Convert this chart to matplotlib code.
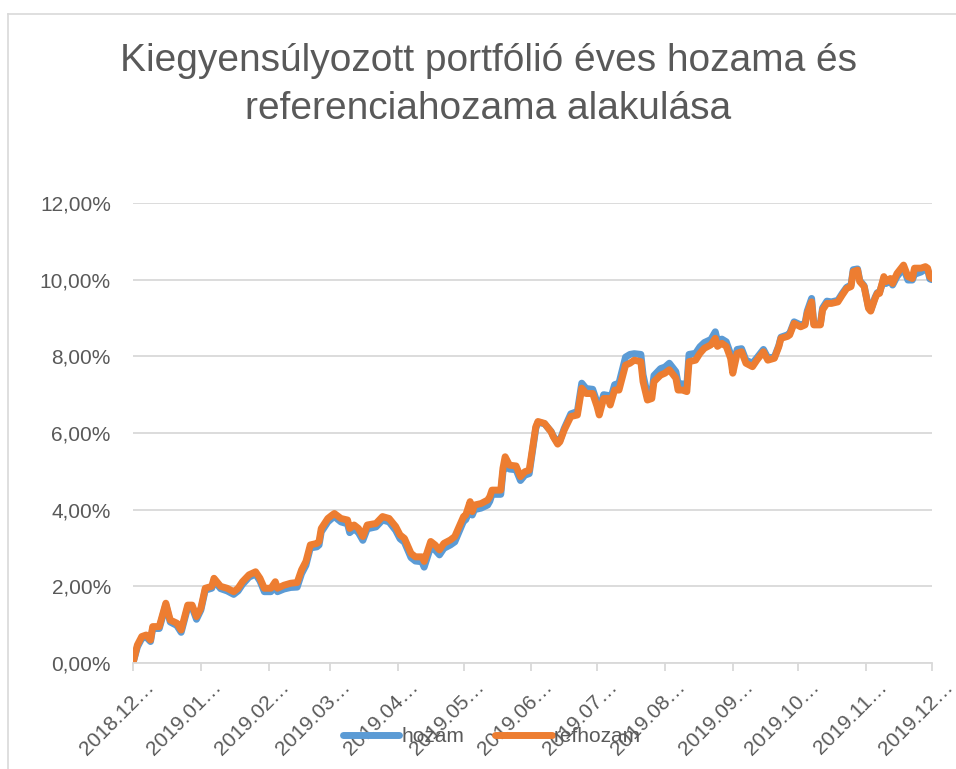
import datetime as dt

import matplotlib
matplotlib.use("Agg")
import matplotlib.pyplot as plt
from matplotlib.lines import Line2D
from matplotlib.transforms import ScaledTranslation


# days since 2018.12.01
START = dt.date(2018, 12, 1)
days = [
    0, 2, 4, 6, 8, 9, 12, 15, 17, 20, 22, 25, 27, 29, 31, 33, 36, 37, 40, 43,
    46, 48, 50, 53, 56, 58, 60, 63, 65, 66, 69, 72, 75, 77, 79, 81, 84, 85, 86, 89,
    91, 92, 95, 98, 99, 101, 103, 105, 107, 111, 114, 117, 120, 122, 124, 127, 129, 132, 133, 136,
    138, 140, 142, 145, 147, 149, 151, 152, 154, 155, 156, 159, 162, 163, 164, 168, 169, 170, 172, 175,
    177, 179, 181, 184, 185, 188, 191, 192, 194, 195, 197, 200, 203, 205, 207, 210, 212, 213, 215, 217,
    218, 220, 222, 225, 227, 229, 232, 233, 235, 237, 238, 241, 243, 245, 248, 249, 251, 253, 254, 257,
    259, 261, 264, 266, 267, 269, 271, 273, 274, 276, 278, 280, 283, 285, 288, 290, 293, 295, 296, 299,
    300, 302, 305, 307, 308, 310, 311, 314, 315, 317, 319, 322, 324, 326, 328, 329, 331, 332, 334, 336,
    337, 339, 340, 341, 343, 344, 346, 347, 349, 352, 354, 356, 357, 360, 362, 363, 364, 365,
]

# refhozam (%)
refhozam = [
    0.00, 0.47, 0.69, 0.73, 0.60, 0.95, 0.95, 1.56, 1.12, 1.04, 0.86, 1.51, 1.51, 1.21, 1.43, 1.95, 2.00, 2.21, 2.00, 1.95,
    1.86, 1.95, 2.12, 2.30, 2.38, 2.21, 1.95, 1.95, 2.12, 1.95, 2.03, 2.08, 2.10, 2.43, 2.65, 3.08, 3.12, 3.17, 3.51, 3.77,
    3.86, 3.90, 3.77, 3.73, 3.51, 3.60, 3.51, 3.30, 3.60, 3.64, 3.82, 3.77, 3.56, 3.34, 3.25, 2.86, 2.77, 2.77, 2.65, 3.17,
    3.08, 2.95, 3.12, 3.21, 3.30, 3.56, 3.82, 3.86, 4.21, 3.95, 4.12, 4.16, 4.25, 4.34, 4.51, 4.51, 5.08, 5.38, 5.16, 5.14,
    4.86, 4.99, 5.03, 6.16, 6.30, 6.25, 6.03, 5.90, 5.71, 5.77, 6.08, 6.43, 6.47, 7.17, 7.03, 7.03, 6.69, 6.47, 6.90, 6.90,
    6.73, 7.12, 7.12, 7.77, 7.82, 7.90, 7.86, 7.34, 6.86, 6.90, 7.34, 7.51, 7.56, 7.65, 7.43, 7.12, 7.12, 7.08, 7.86, 7.90,
    8.08, 8.21, 8.30, 8.47, 8.26, 8.34, 8.26, 7.95, 7.56, 8.08, 8.12, 7.82, 7.73, 7.90, 8.12, 7.90, 7.95, 8.25, 8.47, 8.52,
    8.56, 8.86, 8.77, 8.82, 9.12, 9.42, 8.82, 8.82, 9.21, 9.38, 9.38, 9.42, 9.60, 9.77, 9.82, 10.21, 10.25, 9.95, 9.82, 9.25,
    9.18, 9.51, 9.64, 9.64, 10.08, 9.95, 10.03, 9.90, 10.16, 10.38, 10.08, 10.03, 10.30, 10.30, 10.34, 10.30, 10.08, 10.03,
]

# hozam (%)
hozam = [
    0.00, 0.42, 0.64, 0.68, 0.56, 0.90, 0.90, 1.52, 1.07, 0.98, 0.80, 1.45, 1.45, 1.14, 1.38, 1.90, 1.95, 2.16, 1.94, 1.88,
    1.79, 1.88, 2.05, 2.24, 2.32, 2.14, 1.86, 1.86, 2.04, 1.86, 1.93, 1.97, 1.98, 2.33, 2.55, 3.00, 3.03, 3.08, 3.42, 3.68,
    3.78, 3.82, 3.68, 3.63, 3.40, 3.50, 3.40, 3.20, 3.50, 3.55, 3.73, 3.68, 3.46, 3.24, 3.15, 2.75, 2.66, 2.64, 2.50, 3.03,
    2.95, 2.82, 2.99, 3.08, 3.16, 3.43, 3.70, 3.74, 4.00, 3.86, 4.00, 4.04, 4.12, 4.22, 4.40, 4.40, 4.98, 5.15, 5.06, 5.04,
    4.76, 4.90, 4.94, 6.12, 6.28, 6.24, 6.04, 5.92, 5.74, 5.80, 6.12, 6.50, 6.56, 7.30, 7.16, 7.14, 6.80, 6.58, 7.00, 6.98,
    6.85, 7.26, 7.30, 7.98, 8.05, 8.07, 8.05, 7.52, 7.00, 7.04, 7.50, 7.68, 7.72, 7.82, 7.60, 7.30, 7.28, 7.25, 8.05, 8.08,
    8.25, 8.36, 8.44, 8.64, 8.40, 8.45, 8.38, 8.06, 7.70, 8.18, 8.20, 7.90, 7.82, 7.96, 8.18, 7.96, 7.98, 8.28, 8.50, 8.56,
    8.60, 8.90, 8.82, 8.86, 9.18, 9.51, 8.86, 8.84, 9.26, 9.44, 9.42, 9.46, 9.64, 9.80, 9.86, 10.26, 10.28, 9.98, 9.84, 9.28,
    9.20, 9.54, 9.66, 9.66, 10.02, 9.90, 9.98, 9.86, 10.08, 10.30, 9.99, 9.99, 10.14, 10.20, 10.28, 10.26, 10.02, 10.00,
]

y_ticks = [0, 2, 4, 6, 8, 10, 12]
title = "Kiegyensúlyozott portfólió éves hozama és\nreferenciahozama alakulása"

BLUE = "#5B9BD5"
ORANGE = "#ED7D31"
TEXT = "#595959"
GRID = "#D9D9D9"

plt.rcParams["font.family"] = ["Liberation Sans", "DejaVu Sans"]

dates = [START + dt.timedelta(days=d) for d in days]

fig = plt.figure(figsize=(9.56, 7.69), dpi=100)
ax = fig.add_axes([133 / 956, 1 - 663 / 769, (932 - 133) / 956, (663 - 203) / 769])

l1, = ax.plot(dates, hozam, color=BLUE, lw=5, solid_joinstyle="round", solid_capstyle="round", label="hozam")
l2, = ax.plot(dates, refhozam, color=ORANGE, lw=5, solid_joinstyle="round", solid_capstyle="round", label="refhozam")

ax.set_ylim(0, 12)
ax.set_yticks(y_ticks)
ax.set_yticklabels([f"{v:.2f}%".replace(".", ",") for v in y_ticks], color=TEXT, fontsize=15)
ax.tick_params(axis="y", length=0, pad=16)
ax.yaxis.grid(True, color=GRID, lw=1.3)
ax.set_axisbelow(True)

month_ticks = [dt.date(2018, 12, 1)] + [dt.date(2019, m, 1) for m in range(1, 13)]
ax.set_xlim(month_ticks[0], month_ticks[-1])
ax.set_xticks(month_ticks)
ax.set_xticklabels([d.strftime("%Y.%m") + "…" for d in month_ticks], color=TEXT, fontsize=15,
                   rotation=45, ha="right", va="top", rotation_mode="anchor")
ax.tick_params(axis="x", length=6, width=1.3, color=GRID, pad=4)
shift = ScaledTranslation(11 / 100, 0, fig.dpi_scale_trans)
for lab in ax.get_xticklabels():
    lab.set_transform(lab.get_transform() + shift)

for side in ["left", "right", "top"]:
    ax.spines[side].set_visible(False)
ax.spines["bottom"].set_color(GRID)
ax.spines["bottom"].set_linewidth(1.3)

fig.text(488 / 956, 1 - 85 / 769, title, ha="center", va="center", color=TEXT,
         fontsize=28, linespacing=1.42)

fig.legend(handles=[l1, l2], loc="center", bbox_to_anchor=(492 / 956, 1 - 737 / 769),
           ncol=2, frameon=False, fontsize=15, handlelength=2.7, columnspacing=1.5,
           handletextpad=0.1, labelcolor=TEXT)

# chart border (Excel chart area)
fig.add_artist(Line2D([8 / 956, 1.0], [1 - 14 / 769] * 2, color=GRID, lw=1.2, transform=fig.transFigure))
fig.add_artist(Line2D([8 / 956] * 2, [0.0, 1 - 14 / 769], color=GRID, lw=1.2, transform=fig.transFigure))

fig.savefig("out.png", dpi=100)
